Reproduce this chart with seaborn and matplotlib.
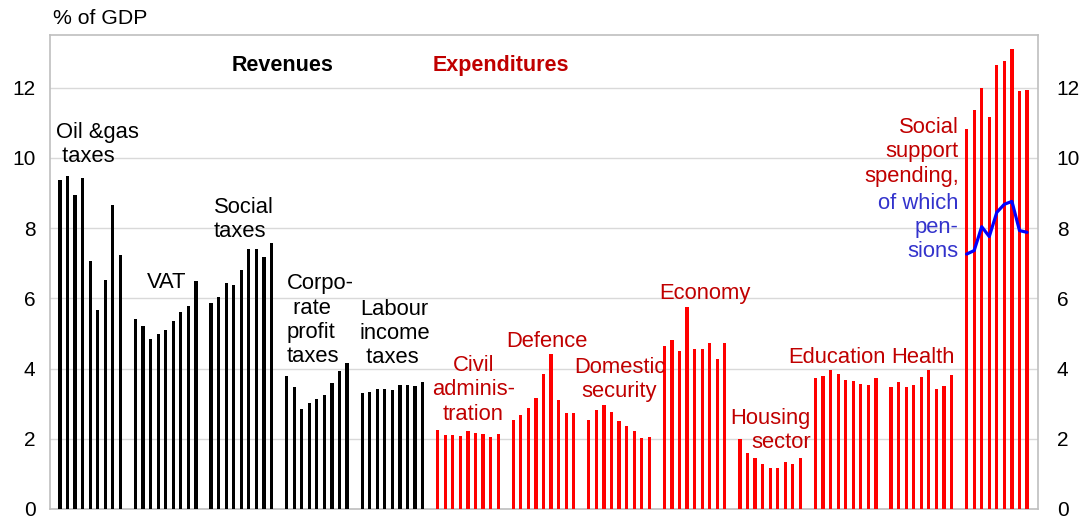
import matplotlib
matplotlib.use("Agg")
import matplotlib.pyplot as plt
import numpy as np
import pandas as pd
import seaborn as sns

# values, % of GDP, 9 years per category
oil_gas = [9.37, 9.49, 8.95, 9.42, 7.07, 5.67, 6.52, 8.65, 7.24]
vat = [5.41, 5.21, 4.85, 4.99, 5.10, 5.36, 5.60, 5.78, 6.50]
social_taxes = [5.87, 6.03, 6.43, 6.38, 6.80, 7.41, 7.41, 7.18, 7.59]
corporate = [3.78, 3.47, 2.85, 3.01, 3.13, 3.24, 3.59, 3.94, 4.16]
labour = [3.31, 3.32, 3.43, 3.43, 3.39, 3.53, 3.54, 3.50, 3.63]

civil_admin = [2.25, 2.12, 2.10, 2.08, 2.22, 2.17, 2.14, 2.05, 2.15]
defence = [2.53, 2.67, 2.89, 3.15, 3.84, 4.42, 3.11, 2.72, 2.74]
domestic_security = [2.53, 2.83, 2.96, 2.77, 2.50, 2.36, 2.22, 2.03, 2.05]
economy = [4.64, 4.81, 4.50, 5.76, 4.55, 4.55, 4.73, 4.27, 4.74]
housing = [1.99, 1.59, 1.44, 1.28, 1.18, 1.17, 1.33, 1.28, 1.44]
education = [3.74, 3.79, 3.97, 3.85, 3.67, 3.64, 3.57, 3.53, 3.72]
health = [3.48, 3.63, 3.48, 3.52, 3.75, 3.96, 3.43, 3.50, 3.81]
social_support = [10.83, 11.37, 12.00, 11.17, 12.64, 12.76, 13.11, 11.91, 11.94]
pensions = [7.26, 7.36, 8.04, 7.76, 8.45, 8.68, 8.76, 7.93, 7.88]

revenue_groups = [oil_gas, vat, social_taxes, corporate, labour]
expenditure_groups = [civil_admin, defence, domestic_security, economy, housing,
                      education, health, social_support]

RED_TEXT = "#C00000"
BLUE_TEXT = "#3333CC"

rows = []
for g, vals in enumerate(revenue_groups + expenditure_groups):
    side = "Revenues" if g < len(revenue_groups) else "Expenditures"
    for i, v in enumerate(vals):
        rows.append({"pos": g * 10 + i, "value": v, "side": side})
df = pd.DataFrame(rows)
pension_df = pd.DataFrame({"pos": [120 + i for i in range(len(pensions))],
                           "value": pensions})

sns.set_style("white")
plt.rcParams["font.family"] = ["Liberation Sans", "DejaVu Sans"]
plt.rcParams["text.color"] = "black"
plt.rcParams["ytick.color"] = "black"

fig = plt.figure(figsize=(10.82, 5.2), dpi=100)
ax = fig.add_axes([50 / 1082, 11 / 520, 988 / 1082, 474 / 520])

sns.barplot(data=df, x="pos", y="value", hue="side", native_scale=True,
            palette={"Revenues": "black", "Expenditures": "#FF0000"},
            saturation=1, width=0.42, dodge=False, legend=False, ax=ax,
            linewidth=0, zorder=3)
sns.lineplot(data=pension_df, x="pos", y="value", color="#0000FF",
             linewidth=2.3, ax=ax, zorder=4)

ax.set_xlim(-1.32, 129.45)
ax.set_ylim(0, 13.5)
ax.set_xticks([])
ax.set_xlabel("")
ax.set_ylabel("")
ax.set_yticks(range(0, 13, 2))
ax.grid(axis="y", color="#D9D9D9", linewidth=1, zorder=0)
ax.set_axisbelow(True)
for s in ax.spines.values():
    s.set_color("#BFBFBF")
    s.set_linewidth(1.2)
ax.tick_params(axis="y", length=0, pad=10.5, labelsize=15)

ax2 = ax.twinx()
ax2.set_ylim(ax.get_ylim())
ax2.set_yticks(range(0, 13, 2))
ax2.tick_params(axis="y", length=0, pad=13.5, labelsize=15)
for s in ax2.spines.values():
    s.set_visible(False)

fs = 15.8
ls = 1.2
ax.text(-0.53, 10.38, "Oil &gas\n taxes", ha="left", va="center", fontsize=fs,
        linespacing=ls, multialignment="left")
ax.text(14.1, 6.44, "VAT", ha="center", va="center", fontsize=fs)
ax.text(20.38, 8.25, "Social\ntaxes", ha="left", va="center", fontsize=fs,
        linespacing=ls, multialignment="left")
ax.text(30.0, 5.38, "Corpo-\n rate\nprofit\ntaxes", ha="left", va="center", fontsize=fs,
        linespacing=ls, multialignment="left")
ax.text(39.7, 5.0, "Labour\nincome\n taxes", ha="left", va="center", fontsize=fs,
        linespacing=ls, multialignment="left")

ax.text(54.7, 3.39, "Civil\nadminis-\ntration", ha="center", va="center", fontsize=fs,
        linespacing=ls, color=RED_TEXT)
ax.text(64.5, 4.77, "Defence", ha="center", va="center", fontsize=fs, color=RED_TEXT)
ax.text(74.06, 3.68, "Domestic\nsecurity", ha="center", va="center", fontsize=fs,
        linespacing=ls, color=RED_TEXT)
ax.text(85.4, 6.15, "Economy", ha="center", va="center", fontsize=fs, color=RED_TEXT)
ax.text(99.4, 2.23, "Housing\nsector", ha="right", va="center", fontsize=fs,
        linespacing=ls, multialignment="right", color=RED_TEXT)
ax.text(102.9, 4.31, "Education", ha="center", va="center", fontsize=fs, color=RED_TEXT)
ax.text(114.2, 4.31, "Health", ha="center", va="center", fontsize=fs, color=RED_TEXT)
ax.text(118.95, 10.17, "Social\nsupport\nspending,", ha="right", va="center", fontsize=fs,
        linespacing=ls, multialignment="right", color=RED_TEXT)
ax.text(118.95, 8.01, "of which\npen-\nsions", ha="right", va="center", fontsize=fs,
        linespacing=ls, multialignment="right", color=BLUE_TEXT)

ax.text(29.45, 12.63, "Revenues", ha="center", va="center", fontsize=15.5, fontweight="bold")
ax.text(58.4, 12.63, "Expenditures", ha="center", va="center", fontsize=15.5,
        fontweight="bold", color=RED_TEXT)

fig.text(52.7 / 1082, 1 - 18.3 / 520, "% of GDP", ha="left", va="center", fontsize=15.3)

fig.savefig("out.png", dpi=100)
